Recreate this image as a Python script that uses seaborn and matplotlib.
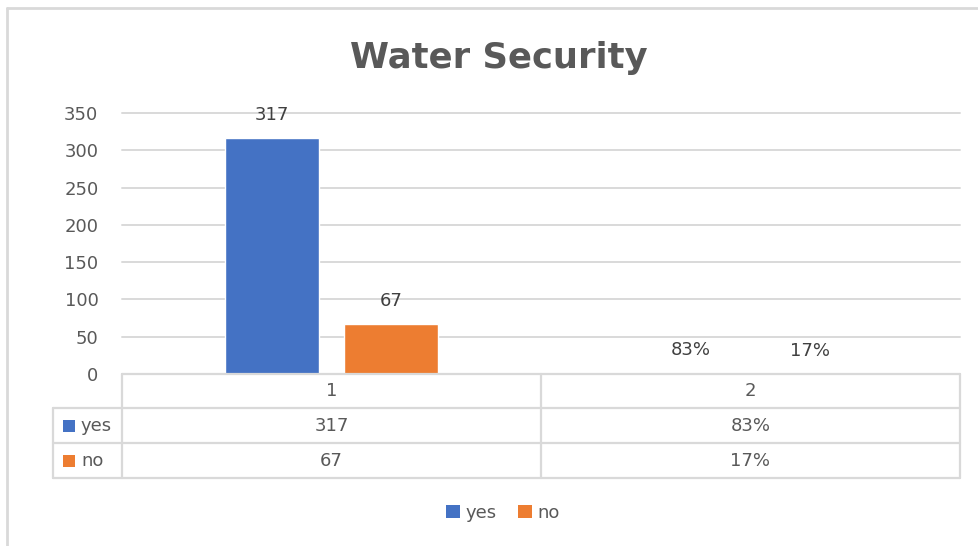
import matplotlib
matplotlib.use("Agg")
import matplotlib.pyplot as plt
import matplotlib.transforms as mtransforms
from matplotlib.patches import Patch, Rectangle
from matplotlib.lines import Line2D
import seaborn as sns
import pandas as pd

# Data
categories = ["1", "2"]
series_names = ["yes", "no"]
yes_values = [317, 0.83]
no_values = [67, 0.17]
yes_labels = ["317", "83%"]
no_labels = ["67", "17%"]
y_ticks = [0, 50, 100, 150, 200, 250, 300, 350]

colors = ["#4472C4", "#ED7D31"]
grid_c = "#D9D9D9"
text_c = "#595959"

df = pd.DataFrame({
    "category": categories * 2,
    "series": [series_names[0]] * 2 + [series_names[1]] * 2,
    "value": yes_values + no_values,
    "label": yes_labels + no_labels,
})

sns.set_theme(style="white")
plt.rcParams["font.family"] = ["DejaVu Sans"]

W, H = 979, 546
fig = plt.figure(figsize=(W / 100, H / 100), dpi=100)
fig.patch.set_facecolor("white")

# plot area in pixel terms
left, right, top, bottom = 122, 960, 113, 374
ax = fig.add_axes([left / W, 1 - bottom / H, (right - left) / W, (bottom - top) / H])

sns.barplot(data=df, x="category", y="value", hue="series", order=categories,
            hue_order=series_names, palette=colors, width=0.57, gap=0.21,
            saturation=1, legend=False, ax=ax)

ax.set_ylim(0, 350)
ax.set_xlim(-0.5, 1.5)
ax.set_yticks(y_ticks)
ax.set_yticklabels([str(t) for t in y_ticks], color=text_c, fontsize=13)
ax.tick_params(axis="y", length=0, pad=17)
ax.set_xticks([])
ax.set_xlabel("")
ax.set_ylabel("")
for s in ax.spines.values():
    s.set_visible(False)
ax.grid(axis="y", color=grid_c, linewidth=1.4)
for gl in ax.get_ygridlines():
    gl.set_clip_on(False)
ax.set_axisbelow(True)

# value labels above the bars
for cont, labs in zip(ax.containers, [yes_labels, no_labels]):
    for bar, lab in zip(cont, labs):
        ax.annotate(lab, (bar.get_x() + bar.get_width() / 2, bar.get_height()),
                    xytext=(0, 10), textcoords="offset points", ha="center",
                    va="bottom", color="#404040", fontsize=13)

# title
fig.text(499 / W, 1 - 58 / H, "Water Security", ha="center", va="center",
         fontsize=25.5, fontweight="bold", color=text_c)

# data table under the axis
tr = mtransforms.blended_transform_factory(ax.transData, fig.transFigure)
def fy(py):
    return 1 - py / H

row_lines = [374, 408, 443, 478]
x_lab = -0.5 - (left - 53) / (right - left) * 2
lw = 1.6
fig.add_artist(Line2D([-0.5, -0.5], [fy(374), fy(478)], transform=tr, color=grid_c, lw=lw))
fig.add_artist(Line2D([0.5, 0.5], [fy(374), fy(478)], transform=tr, color=grid_c, lw=lw))
fig.add_artist(Line2D([1.5, 1.5], [fy(374), fy(478)], transform=tr, color=grid_c, lw=lw))
fig.add_artist(Line2D([x_lab, x_lab], [fy(408), fy(478)], transform=tr, color=grid_c, lw=lw))
fig.add_artist(Line2D([-0.5, 1.5], [fy(374), fy(374)], transform=tr, color=grid_c, lw=lw))
for py in row_lines[1:]:
    fig.add_artist(Line2D([x_lab, 1.5], [fy(py), fy(py)], transform=tr, color=grid_c, lw=lw))

for i, cat in enumerate(categories):
    fig.text(i, fy(391), cat, transform=tr, ha="center", va="center",
             color=text_c, fontsize=13)
    fig.text(i, fy(426), yes_labels[i], transform=tr, ha="center", va="center",
             color=text_c, fontsize=13)
    fig.text(i, fy(461), no_labels[i], transform=tr, ha="center", va="center",
             color=text_c, fontsize=13)

for name, c, py in zip(series_names, colors, [426, 461]):
    fig.add_artist(Rectangle((63 / W, fy(py + 6)), 12 / W, 12 / H,
                             transform=fig.transFigure, color=c, lw=0))
    fig.text(81 / W, fy(py), name, ha="left", va="center",
             color=text_c, fontsize=13)

# legend below the table
handles = [Patch(facecolor=c, edgecolor="none", label=n) for n, c in zip(series_names, colors)]
fig.legend(handles=handles, loc="center", bbox_to_anchor=(503 / W, fy(513)),
           ncol=2, frameon=False, fontsize=13, labelcolor=text_c,
           handlelength=0.75, handleheight=0.75, handletextpad=0.3,
           columnspacing=1.2)

# chart area border (top and left edges)
fig.add_artist(Line2D([7 / W, 1], [fy(8), fy(8)], transform=fig.transFigure, color=grid_c, lw=2))
fig.add_artist(Line2D([7 / W, 7 / W], [fy(8), 0], transform=fig.transFigure, color=grid_c, lw=2))

fig.savefig("out.png", dpi=100)
